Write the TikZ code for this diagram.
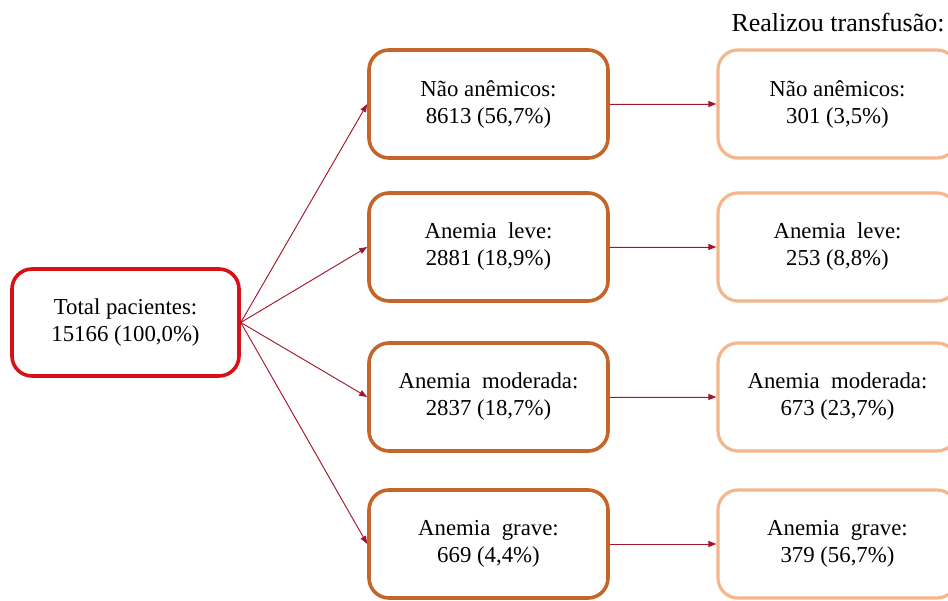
\documentclass[tikz,border=0pt]{standalone}
\usepackage{fontspec}
\setmainfont{Liberation Serif}
\usetikzlibrary{arrows.meta}
\definecolor{totred}{RGB}{214,18,22}
\definecolor{midbrown}{RGB}{196,102,42}
\definecolor{lightpeach}{RGB}{244,182,140}
\definecolor{arrred}{RGB}{165,20,40}
\tikzset{
  basebox/.style={rounded corners=20pt, line width=3.6pt, fill=white, align=center,
    font=\fontsize{22.8}{27}\selectfont, inner sep=0pt},
  totbox/.style={basebox, draw=totred, minimum width=227pt, minimum height=107pt},
  midbox/.style={basebox, draw=midbrown, minimum width=239pt, minimum height=108pt},
  rightbox/.style={basebox, draw=lightpeach, line width=3.2pt, minimum width=239pt, minimum height=108pt},
  arr/.style={draw=arrred, line width=0.9pt, -{Triangle[length=8pt,width=6pt]}, fill=arrred}
}
\begin{document}
\begin{tikzpicture}[x=1pt,y=-1pt]
\useasboundingbox (0,0) rectangle (948,601);
\clip (0,0) rectangle (948,601);
\node[totbox] (tot) at (125.5,322.5) {Total pacientes:\\15166 (100,0\%)};
\node[midbox] (m1) at (488.5,104) {Não anêmicos:\\8613 (56,7\%)};
\node[midbox] (m2) at (488.5,247) {Anemia\ \ leve:\\2881 (18,9\%)};
\node[midbox] (m3) at (488.5,397) {Anemia\ \ moderada:\\2837 (18,7\%)};
\node[midbox] (m4) at (488.5,544) {Anemia\ \ grave:\\669 (4,4\%)};
\node[rightbox] (r1) at (837.5,104) {Não anêmicos:\\301 (3,5\%)};
\node[rightbox] (r2) at (837.5,247) {Anemia\ \ leve:\\253 (8,8\%)};
\node[rightbox] (r3) at (837.5,397) {Anemia\ \ moderada:\\673 (23,7\%)};
\node[rightbox] (r4) at (837.5,544) {Anemia\ \ grave:\\379 (56,7\%)};
\node[anchor=base, font=\fontsize{26}{30}\selectfont, inner sep=0pt] (title) at (838,32) {Realizou transfusão:};
\foreach \i in {1,2,3,4}{
  \draw[arr] (tot.east) -- (m\i.west);
  \draw[arr] (m\i.east) -- (r\i.west);
}
\end{tikzpicture}
\end{document}
